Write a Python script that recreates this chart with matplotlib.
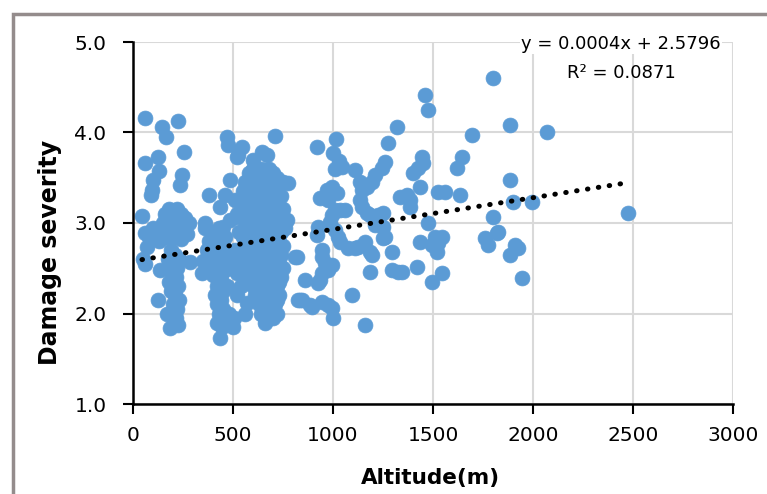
import matplotlib.pyplot as plt
import numpy as np
from matplotlib.patches import Rectangle

# altitude (m) and damage severity
altitude = [
    # far left group
    60, 145, 165, 225, 255, 60, 125, 130, 100, 95, 90, 245, 235, 45, 60, 70, 50, 60, 135, 125,
    160, 180, 200, 220, 240, 260, 280, 150, 170, 190, 210, 230, 250, 270, 160, 200, 240, 120, 100, 80, 130, 285,
    190, 210, 230, 200, 220, 195, 215, 205, 225, 190, 210, 230, 200, 220, 195, 215, 205, 185, 225, 175, 180, 170,
    # 350-500 column
    380, 360, 345, 360, 400, 430, 460, 380, 420, 450, 370, 410, 440, 470, 350, 390, 430, 460, 400, 440,
    420, 450, 410, 440, 420, 450, 430, 460, 420, 445, 435, 470, 480, 470, 475, 485, 520, 460, 435, 510,
    450, 485, 525, 520, 530, 510, 530, 520, 540, 500, 520, 505, 500,
    # 550-780 main cluster
    545, 525, 645, 670, 600, 710, 750, 775, 770, 570, 560, 660,
    600, 640, 680, 580, 620, 660, 700, 590, 630, 670, 720, 560, 610, 650, 690, 740,
    580, 620, 660, 700, 550, 600, 640, 680, 720, 570, 610, 650, 690, 740, 590, 630, 670, 710,
    560, 600, 640, 680, 720, 580, 620, 660, 700, 750, 550, 600, 640, 680, 720, 570, 610, 650, 690, 730,
    590, 630, 670, 710, 560, 600, 640, 680, 720, 760, 580, 620, 660, 700, 740, 550, 600, 640, 680, 720,
    570, 610, 650, 690, 730, 590, 630, 670, 710, 750, 560, 600, 640, 680, 720, 580, 620, 660, 700, 740,
    550, 600, 640, 680, 720, 570, 610, 650, 690, 730, 590, 630, 670, 710, 750, 600, 640, 680, 720,
    580, 620, 660, 700, 740, 610, 650, 690, 730, 600, 640, 680, 720, 620, 660, 700, 610, 650, 690, 730,
    640, 680, 720, 630, 670, 710, 650, 690, 640, 680, 720, 660, 700,
    # 800-1350
    810, 835, 820, 860, 825, 885, 845, 895, 920, 935, 925, 920,
    1015, 1000, 1010, 1045, 1030, 1110, 1275, 1260, 1245, 1210, 1195, 1170, 1145, 1135,
    995, 970, 1020, 975, 1135, 1145, 1170, 1185, 1225, 1250, 1010, 1035, 1060, 995,
    985, 1010, 1025, 1035, 1210, 1250, 1260, 1075, 1110, 1125, 1160, 1185, 1195, 1250, 1295,
    945, 945, 960, 995, 975, 945, 935, 925, 1185, 1295, 1325, 945, 975, 995, 1000, 1095, 1160,
    # 1300 and above
    1320, 1460, 1475, 1800, 1695, 1445, 1450, 1425, 1400, 1645, 1620, 1435, 1335, 1370, 1385, 1385,
    1525, 1560, 1635, 1475, 1435, 1510, 1545, 1525, 1520, 1495, 1800, 1820, 1760, 1775,
    1420, 1345, 1545, 1495, 1885, 2070, 1885, 1900, 1995, 1825, 1910, 1925, 1885, 1945, 2475,
]
severity = [
    4.16, 4.06, 3.95, 4.13, 3.78, 3.66, 3.73, 3.57, 3.48, 3.36, 3.31, 3.53, 3.42, 3.08, 2.89, 2.73, 2.60, 2.55, 2.48, 2.15,
    3.10, 3.15, 3.12, 3.16, 3.10, 3.05, 3.00, 3.00, 2.95, 3.00, 2.95, 2.98, 2.92, 2.88, 2.85, 2.85, 2.82, 2.90, 2.95, 2.85, 2.80, 2.57,
    2.70, 2.65, 2.60, 2.55, 2.50, 2.45, 2.40, 2.35, 2.30, 2.25, 2.20, 2.15, 2.10, 2.05, 2.00, 1.95, 1.90, 1.84, 1.87, 2.60, 2.35, 2.00,
    3.31, 3.00, 2.45, 2.95, 2.90, 2.95, 2.85, 2.80, 2.78, 2.75, 2.70, 2.65, 2.62, 2.60, 2.58, 2.55, 2.50, 2.48, 2.42, 2.38,
    2.30, 2.25, 2.20, 2.15, 2.10, 2.05, 2.00, 1.95, 1.90, 1.85, 1.73, 2.30, 2.00, 3.95, 3.86, 3.48, 3.73, 3.31, 3.18, 3.25,
    2.96, 3.03, 3.07, 3.10, 2.90, 2.70, 2.60, 2.45, 2.30, 2.55, 2.20, 1.95, 1.85,
    3.84, 3.75, 3.78, 3.75, 3.70, 3.96, 3.45, 3.44, 3.03, 2.12, 2.00, 1.90,
    3.60, 3.60, 3.60, 3.55, 3.55, 3.55, 3.55, 3.50, 3.50, 3.50, 3.50, 3.45, 3.45, 3.45, 3.45, 3.45,
    3.40, 3.40, 3.40, 3.40, 3.35, 3.35, 3.35, 3.35, 3.35, 3.30, 3.30, 3.30, 3.30, 3.30, 3.25, 3.25, 3.25, 3.25,
    3.20, 3.20, 3.20, 3.20, 3.20, 3.15, 3.15, 3.15, 3.15, 3.15, 3.10, 3.10, 3.10, 3.10, 3.10, 3.05, 3.05, 3.05, 3.05, 3.05,
    3.00, 3.00, 3.00, 3.00, 2.95, 2.95, 2.95, 2.95, 2.95, 2.95, 2.90, 2.90, 2.90, 2.90, 2.90, 2.85, 2.85, 2.85, 2.85, 2.85,
    2.80, 2.80, 2.80, 2.80, 2.80, 2.75, 2.75, 2.75, 2.75, 2.75, 2.70, 2.70, 2.70, 2.70, 2.70, 2.65, 2.65, 2.65, 2.65, 2.65,
    2.60, 2.60, 2.60, 2.60, 2.60, 2.55, 2.55, 2.55, 2.55, 2.55, 2.50, 2.50, 2.50, 2.50, 2.50, 2.45, 2.45, 2.45, 2.45,
    2.40, 2.40, 2.40, 2.40, 2.40, 2.35, 2.35, 2.35, 2.35, 2.30, 2.30, 2.30, 2.30, 2.25, 2.25, 2.25, 2.20, 2.20, 2.20, 2.20,
    2.15, 2.15, 2.15, 2.10, 2.10, 2.10, 2.05, 2.05, 2.00, 2.00, 2.00, 1.95, 1.95,
    2.62, 2.15, 2.62, 2.37, 2.15, 2.09, 2.15, 2.07, 3.84, 3.28, 2.96, 2.87,
    3.93, 3.77, 3.60, 3.62, 3.68, 3.59, 3.88, 3.67, 3.61, 3.53, 3.45, 3.40, 3.36, 3.45,
    3.40, 3.36, 3.33, 3.25, 3.25, 3.18, 3.11, 3.09, 3.09, 3.11, 3.14, 3.14, 3.14, 3.09,
    3.01, 2.92, 2.85, 2.79, 2.98, 2.96, 2.85, 2.72, 2.72, 2.73, 2.79, 2.68, 2.65, 2.83, 2.68,
    2.70, 2.62, 2.56, 2.54, 2.48, 2.45, 2.37, 2.34, 2.46, 2.48, 2.46, 2.13, 2.09, 2.06, 1.95, 2.20, 1.87,
    4.06, 4.41, 4.25, 4.60, 3.97, 3.73, 3.66, 3.61, 3.55, 3.73, 3.61, 3.40, 3.29, 3.31, 3.25, 3.18,
    3.34, 3.34, 3.31, 3.00, 2.79, 2.85, 2.85, 2.78, 2.68, 2.76, 3.07, 2.89, 2.83, 2.76,
    2.51, 2.46, 2.45, 2.35, 4.08, 4.00, 3.47, 3.23, 3.23, 2.90, 2.76, 2.72, 2.65, 2.39, 3.11,
]

# Excel trendline (slope as drawn)
trend_slope = 0.00035
trend_intercept = 2.5796
eq_text = 'y = 0.0004x + 2.5796'
r2_text = 'R² = 0.0871'

x_ticks = [0, 500, 1000, 1500, 2000, 2500, 3000]
y_ticks = [1.0, 2.0, 3.0, 4.0, 5.0]

fig = plt.figure(figsize=(7.67, 4.94), dpi=100)
# grey frame around the chart area
fig.patches.append(Rectangle((13 / 767, -0.1), 1.2, (494 - 14) / 494 + 0.1,
                             transform=fig.transFigure, fill=False,
                             edgecolor='#948c8c', linewidth=2.5))

ax = fig.add_axes([133 / 767, 90 / 494, 600 / 767, 362 / 494])
ax.scatter(altitude, severity, s=115, color='#5b9bd5', edgecolors='#5b9bd5',
           linewidths=0.5, zorder=3)

xt = np.array([min(altitude), max(altitude)])
ax.plot(xt, trend_slope * xt + trend_intercept, color='black', linewidth=3.6,
        linestyle=(0, (0.1, 2.1)), dash_capstyle='round', zorder=4)

ax.set_xlim(0, 3000)
ax.set_ylim(1.0, 5.0)
ax.set_xticks(x_ticks)
ax.set_yticks(y_ticks)
ax.set_yticklabels([f'{v:.1f}' for v in y_ticks])
ax.tick_params(labelsize=14.5, length=7, width=1.5)
ax.tick_params(axis='y', pad=12)
ax.tick_params(axis='x', pad=9)
ax.grid(True, color='#d9d9d9', linewidth=1.5, zorder=0)
ax.set_axisbelow(True)
for side in ['top', 'right']:
    ax.spines[side].set_visible(False)
for side in ['left', 'bottom']:
    ax.spines[side].set_linewidth(1.8)
    ax.spines[side].set_zorder(5)

ax.set_xlabel('Altitude(m)', fontsize=15.5, fontweight='bold', va='top')
ax.xaxis.set_label_coords(0.495, -0.178)
ax.set_ylabel('Damage severity', fontsize=17, fontweight='bold')
ax.yaxis.set_label_coords(-0.118, 0.42)

ax.text(2440, 4.98, eq_text, fontsize=13, ha='center', va='center', zorder=6,
        bbox=dict(facecolor='white', edgecolor='none', pad=1))
ax.text(2440, 4.66, r2_text, fontsize=13, ha='center', va='center', zorder=6)

fig.savefig('out.png', dpi=100)
